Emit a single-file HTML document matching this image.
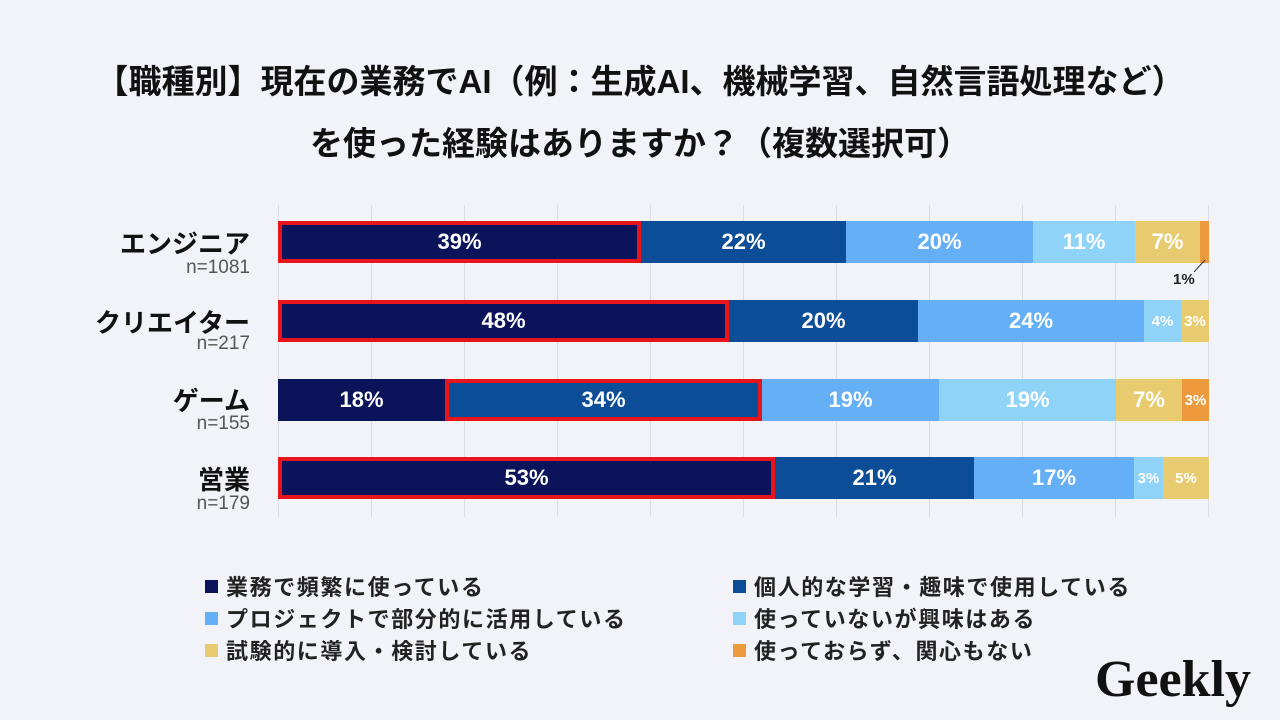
<!DOCTYPE html>
<html><head><meta charset="utf-8"><style>
body{margin:0;width:1280px;height:720px;background:#f2f3f8;font-family:"Liberation Sans","Noto Sans CJK JP",sans-serif;position:relative;overflow:hidden}
.t{position:absolute;left:0;width:1280px;text-align:center;font-weight:bold;font-size:33px;color:#111}
.g{position:absolute;top:205px;height:312px;width:1px;background:#dcdde4}
.s{position:absolute;color:#fff;font-weight:bold;font-size:22px;display:flex;align-items:center;justify-content:center;overflow:visible;white-space:nowrap}
.sm{font-size:15px}
.rb{position:absolute;border:4px solid #e8141c;box-sizing:border-box}
.lab{position:absolute;right:1030px;text-align:right;font-weight:bold;font-size:26px;color:#111}
.n{position:absolute;right:1030px;text-align:right;font-size:19px;color:#555}
.lg{position:absolute;font-size:22px;letter-spacing:1.6px;font-weight:bold;color:#222;display:flex;align-items:center}
.lg i{display:inline-block;width:13px;height:13px;margin-right:8px}
</style></head><body>
<div class="t" style="top:55px">【職種別】現在の業務でAI（例：生成AI、機械学習、自然言語処理など）</div>
<div class="t" style="top:117px">を使った経験はありますか？（複数選択可）</div>
<div class="g" style="left:278px"></div><div class="g" style="left:371px"></div><div class="g" style="left:464px"></div><div class="g" style="left:557px"></div><div class="g" style="left:650px"></div><div class="g" style="left:743px"></div><div class="g" style="left:836px"></div><div class="g" style="left:929px"></div><div class="g" style="left:1022px"></div><div class="g" style="left:1115px"></div><div class="g" style="left:1208px"></div>

<div class="s" style="left:278px;width:363px;top:221px;height:42px;background:#0b145a">39%</div>
<div class="s" style="left:641px;width:205px;top:221px;height:42px;background:#0b4d96">22%</div>
<div class="s" style="left:846px;width:187px;top:221px;height:42px;background:#64aff5">20%</div>
<div class="s" style="left:1033px;width:102px;top:221px;height:42px;background:#8fd3f8">11%</div>
<div class="s" style="left:1135px;width:65px;top:221px;height:42px;background:#e9cb6f">7%</div>
<div class="s" style="left:1200px;width:9px;top:221px;height:42px;background:#ec9a3c"></div>
<div class="rb" style="left:278px;width:363px;top:221px;height:42px"></div>
<div style="position:absolute;left:1173px;top:271px;font-size:15px;font-weight:bold;color:#222">1%</div>
<svg style="position:absolute;left:1190px;top:258px" width="20" height="16"><line x1="15" y1="2" x2="4" y2="14" stroke="#333" stroke-width="1"/></svg>

<div class="s" style="left:278px;width:451px;top:300px;height:42px;background:#0b145a">48%</div>
<div class="s" style="left:729px;width:189px;top:300px;height:42px;background:#0b4d96">20%</div>
<div class="s" style="left:918px;width:226px;top:300px;height:42px;background:#64aff5">24%</div>
<div class="s sm" style="left:1144px;width:37px;top:300px;height:42px;background:#8fd3f8">4%</div>
<div class="s sm" style="left:1181px;width:28px;top:300px;height:42px;background:#e9cb6f">3%</div>
<div class="rb" style="left:278px;width:451px;top:300px;height:42px"></div>

<div class="s" style="left:278px;width:167px;top:379px;height:42px;background:#0b145a">18%</div>
<div class="s" style="left:445px;width:317px;top:379px;height:42px;background:#0b4d96">34%</div>
<div class="s" style="left:762px;width:177px;top:379px;height:42px;background:#64aff5">19%</div>
<div class="s" style="left:939px;width:177px;top:379px;height:42px;background:#8fd3f8">19%</div>
<div class="s" style="left:1116px;width:66px;top:379px;height:42px;background:#e9cb6f">7%</div>
<div class="s sm" style="left:1182px;width:27px;top:379px;height:42px;background:#ec9a3c">3%</div>
<div class="rb" style="left:445px;width:317px;top:379px;height:42px"></div>

<div class="s" style="left:278px;width:497px;top:457px;height:42px;background:#0b145a">53%</div>
<div class="s" style="left:775px;width:199px;top:457px;height:42px;background:#0b4d96">21%</div>
<div class="s" style="left:974px;width:160px;top:457px;height:42px;background:#64aff5">17%</div>
<div class="s sm" style="left:1134px;width:29px;top:457px;height:42px;background:#8fd3f8">3%</div>
<div class="s sm" style="left:1163px;width:46px;top:457px;height:42px;background:#e9cb6f">5%</div>
<div class="rb" style="left:278px;width:497px;top:457px;height:42px"></div>

<div class="lab" style="top:224px">エンジニア</div><div class="n" style="top:257px">n=1081</div>
<div class="lab" style="top:303px">クリエイター</div><div class="n" style="top:333px">n=217</div>
<div class="lab" style="top:381px">ゲーム</div><div class="n" style="top:413px">n=155</div>
<div class="lab" style="top:460px">営業</div><div class="n" style="top:493px">n=179</div>

<div class="lg" style="left:205px;top:570px"><i style="background:#0b145a"></i>業務で頻繁に使っている</div>
<div class="lg" style="left:733px;top:570px"><i style="background:#0b4d96"></i>個人的な学習・趣味で使用している</div>
<div class="lg" style="left:205px;top:602px"><i style="background:#64aff5"></i>プロジェクトで部分的に活用している</div>
<div class="lg" style="left:733px;top:602px"><i style="background:#8fd3f8"></i>使っていないが興味はある</div>
<div class="lg" style="left:205px;top:634px"><i style="background:#e9cb6f"></i>試験的に導入・検討している</div>
<div class="lg" style="left:733px;top:634px"><i style="background:#ec9a3c"></i>使っておらず、関心もない</div>
<div style="position:absolute;left:1095px;top:650px;font-family:'Liberation Serif',serif;font-weight:bold;font-size:52px;color:#111;letter-spacing:0px">Geekly</div>
</body></html>
